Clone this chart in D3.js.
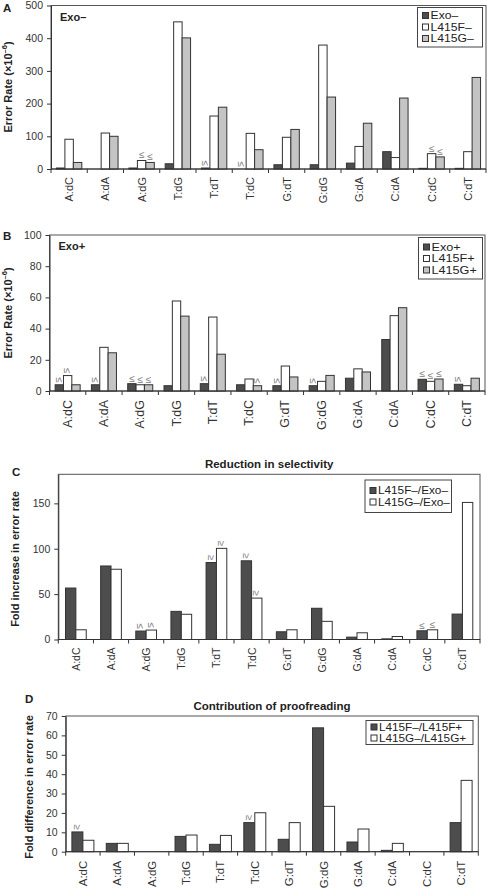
<!DOCTYPE html>
<html><head><meta charset="utf-8">
<script src="https://cdn.jsdelivr.net/npm/d3@7/dist/d3.min.js"></script>
<style>body{margin:0;background:#fff} text{font-family:"Liberation Sans",Arial,sans-serif}</style>
</head><body><svg id="c" width="487" height="890"></svg>
<script>
const categories = ["A:dC","A:dA","A:dG","T:dG","T:dT","T:dC","G:dT","G:dG","G:dA","C:dA","C:dC","C:dT"];
// Panel A (Exo−), error rate ×10^-6
const exoMinus   = [3, 0, 3, 16, 3, 0, 13, 13, 18, 53, 2, 2];
const l415fMinus = [91, 110, 26, 450, 162, 109, 97, 379, 69, 35, 47, 53];
const l415gMinus = [20, 100, 20, 401, 189, 59, 121, 220, 140, 217, 37, 280];
// Panel B (Exo+)
const exoPlus   = [4, 4, 4.7, 3.4, 4.7, 4, 3.4, 3.4, 8.2, 33, 7.5, 4.3];
const l415fPlus = [9.9, 28, 4, 57.7, 47.4, 7.7, 16, 6.2, 14.2, 48.3, 6.2, 3.4];
const l415gPlus = [4, 24.5, 4, 48, 23.6, 3.4, 9, 10, 12.2, 53.4, 7.7, 8.2];
// Panel C (reduction in selectivity)
const foldF = [56.7, 81, 9.3, 31, 84.8, 86.7, 8.5, 34.4, 2.6, 0.7, 9.6, 28];
const foldG = [10.7, 77.4, 10.4, 27.8, 100.4, 45.6, 10.7, 20, 7.4, 3.3, 10.7, 151];
// Panel D (contribution of proofreading)
const proofF = [10.2, 4.3, null, 7.9, 3.8, 15, 6.4, 63.9, 5, 0.7, null, 15];
const proofG = [5.9, 4.3, null, 8.6, 8.4, 20.1, 15, 23.4, 11.7, 4.3, null, 36.8];
// tick labels
const ticksA = [0, 100, 200, 300, 400, 500];
const ticksB = [0, 20, 40, 60, 80, 100];
const ticksC = [0, 50, 100, 150];
const ticksD = [0, 10, 20, 30, 40, 50, 60, 70];
// annotations: [category index, series index, symbol, rotated]
const notesA = [[2,1,"≤",0],[2,2,"≤",0],[4,0,"≤",1],[5,0,"≤",1],[10,1,"≤",0],[10,2,"≤",0]];
const notesB = [[0,0,"≤",1],[0,1,"≤",1],[1,0,"≤",1],[2,0,"≤",0],[2,1,"≤",0],[2,2,"≤",0],[4,0,"≤",1],[5,2,"≤",1],[6,0,"≤",1],[7,0,"≤",1],[10,0,"≤",0],[10,1,"≤",0],[10,2,"≤",0],[11,0,"≤",1]];
const notesC = [[2,0,"≤",1],[2,1,"≤",1],[4,0,"≥",1],[4,1,"≥",1],[5,0,"≥",1],[5,1,"≥",1],[10,0,"≤",0],[10,1,"≤",0]];
const notesD = [[0,0,"≥",1],[5,0,"≥",1]];

const DARK = "#4d4d4d", WHITE = "#ffffff", LIGHT = "#c4c4c4", STROKE = "#333";
const svg = d3.select("#c");

function panel(o) {
  const g = svg.append("g");
  const x = d3.scaleBand().domain(categories).range([o.left, o.right]);
  const y = d3.scaleLinear().domain([0, o.ymax]).range([o.bottom, o.top]);
  const bw = x.bandwidth();
  const inner = d3.scaleBand().domain(d3.range(o.series.length)).range([bw*(1-o.groupFrac)/2, bw*(1+o.groupFrac)/2]);
  // frame
  g.append("rect").attr("x", o.left).attr("y", o.top).attr("width", o.right-o.left).attr("height", o.bottom-o.top)
    .attr("fill","none").attr("stroke","#555").attr("stroke-width",1);
  // bars
  o.series.forEach((s, si) => {
    g.append("g").selectAll("rect")
      .data(s.values.map((v,i)=>({v, c: categories[i]})).filter(d => d.v != null && d.v > 0))
      .join("rect")
      .attr("x", d => x(d.c) + inner(si))
      .attr("width", inner.bandwidth())
      .attr("y", d => y(d.v))
      .attr("height", d => y(0) - y(d.v))
      .attr("fill", s.color).attr("stroke", STROKE).attr("stroke-width", 1);
  });
  // annotations
  o.notes.forEach(([ci, si, sym, rot]) => {
    const v = o.series[si].values[ci] || 0;
    const cx = x(categories[ci]) + inner(si) + inner.bandwidth()/2;
    const cy = y(v) - 2;
    const t = g.append("text").text(sym).attr("fill","#7a7a7a").attr("font-size", 10);
    if (rot) t.attr("transform", `translate(${cx},${cy}) rotate(90)`).attr("text-anchor","end").attr("dominant-baseline","central");
    else t.attr("x", cx).attr("y", cy).attr("text-anchor","middle");
  });
  // y axis
  const ya = g.append("g").attr("transform", `translate(${o.left},0)`)
    .call(d3.axisLeft(y).tickValues(o.ticks).tickSize(4).tickPadding(4).tickSizeOuter(0));
  ya.select(".domain").attr("stroke","#333");
  ya.selectAll(".tick line").attr("stroke","#333");
  ya.selectAll(".tick text").attr("font-size", 10.5).attr("fill","#333").attr("font-family",'"Liberation Sans",Arial,sans-serif');
  // x axis line + boundary ticks
  g.append("line").attr("x1", o.left).attr("x2", o.right).attr("y1", o.bottom).attr("y2", o.bottom).attr("stroke","#333");
  const bounds = categories.map(c => x(c)).concat([o.right]);
  g.append("g").selectAll("line").data(bounds).join("line")
    .attr("x1", d=>d).attr("x2", d=>d).attr("y1", o.bottom).attr("y2", o.bottom+4).attr("stroke","#333");
  g.append("g").selectAll("text").data(categories).join("text")
    .attr("transform", d => `translate(${x(d)+bw/2},${o.bottom + o.labelGap}) rotate(-90)`)
    .attr("text-anchor","end").attr("dominant-baseline","central")
    .attr("font-size", o.labelSize).attr("fill","#333").text(d=>d);
  // y title
  const yt = g.append("text").attr("transform", `translate(${o.ytX},${o.ytY}) rotate(-90)`)
    .attr("text-anchor","middle").attr("dominant-baseline","central")
    .attr("font-size", 11).attr("font-weight","bold").attr("fill","#222");
  if (o.sup) {
    yt.append("tspan").text(o.ytitle);
    yt.append("tspan").text(o.sup).attr("font-size", 7.5).attr("dy", -4);
    yt.append("tspan").text(")").attr("dy", 4);
  } else yt.text(o.ytitle);
  // panel letter
  g.append("text").attr("x", o.letterX).attr("y", o.letterY).attr("font-size", 11.5).attr("font-weight","bold").attr("fill","#222").text(o.letter);
  // title
  if (o.title) g.append("text").attr("x", (o.left+o.right)/2).attr("y", o.top - 6).attr("text-anchor","middle")
    .attr("font-size", 11.5).attr("font-weight","bold").attr("fill","#222").text(o.title);
  if (o.inLabel) g.append("text").attr("x", o.left + 9).attr("y", o.top + 15).attr("font-size", 11).attr("font-weight","bold").attr("fill","#222").text(o.inLabel);
  // legend
  const L = o.legend;
  g.append("rect").attr("x", L.x).attr("y", L.y).attr("width", L.w).attr("height", L.h).attr("fill","#fff").attr("stroke","#444");
  o.series.forEach((s, si) => {
    const ry = L.y + L.first + si*L.step;
    g.append("rect").attr("x", L.x + 5).attr("y", ry - 3).attr("width", 6).attr("height", 6).attr("fill", s.color).attr("stroke", STROKE);
    g.append("text").attr("transform", `translate(${L.x + 13},${ry}) scale(${L.sx},1)`).attr("dominant-baseline","central")
      .attr("font-size", L.fs).attr("fill","#222").text(s.name);
  });
}

panel({left:51, right:486, top:5.5, bottom:169, ymax:500, ticks:ticksA, groupFrac:0.7,
  series:[{name:"Exo–", values:exoMinus, color:DARK},{name:"L415F–", values:l415fMinus, color:WHITE},{name:"L415G–", values:l415gMinus, color:LIGHT}],
  notes:notesA, labelGap:8, labelSize:11, ytitle:"Error Rate (×10", sup:"–6", ytX:8, ytY:87,
  letter:"A", letterX:3, letterY:12, inLabel:"Exo–",
  legend:{x:417.5, y:7.5, w:65, h:39.5, first:8, step:11.5, fs:10, sx:1.22}});

panel({left:49.5, right:485, top:235, bottom:391, ymax:100, ticks:ticksB, groupFrac:0.69,
  series:[{name:"Exo+", values:exoPlus, color:DARK},{name:"L415F+", values:l415fPlus, color:WHITE},{name:"L415G+", values:l415gPlus, color:LIGHT}],
  notes:notesB, labelGap:9, labelSize:12.5, ytitle:"Error Rate (×10", sup:"–6", ytX:8, ytY:313,
  letter:"B", letterX:3, letterY:240, inLabel:"Exo+",
  legend:{x:418.5, y:237.5, w:64, h:41.5, first:9.5, step:11.5, fs:11, sx:1.15}});

panel({left:58.3, right:480, top:474.3, bottom:639.5, ymax:182, ticks:ticksC, groupFrac:0.59,
  series:[{name:"L415F–/Exo–", values:foldF, color:DARK},{name:"L415G–/Exo–", values:foldG, color:WHITE}],
  notes:notesC, labelGap:8, labelSize:10.5, ytitle:"Fold increase in error rate", ytX:15, ytY:559,
  letter:"C", letterX:12, letterY:476, title:"Reduction in selectivity",
  legend:{x:365, y:480, w:86.5, h:32.5, first:10.5, step:11.5, fs:11, sx:1.07}});

panel({left:65.7, right:478.3, top:716, bottom:851.7, ymax:70, ticks:ticksD, groupFrac:0.64,
  series:[{name:"L415F–/L415F+", values:proofF, color:DARK},{name:"L415G–/L415G+", values:proofG, color:WHITE}],
  notes:notesD, labelGap:9, labelSize:11.5, ytitle:"Fold difference in error rate", ytX:29, ytY:787,
  letter:"D", letterX:25, letterY:703, title:"Contribution of proofreading",
  legend:{x:366, y:720.5, w:107, h:24, first:6.5, step:11, fs:10.5, sx:1.12}});
</script></body></html>
